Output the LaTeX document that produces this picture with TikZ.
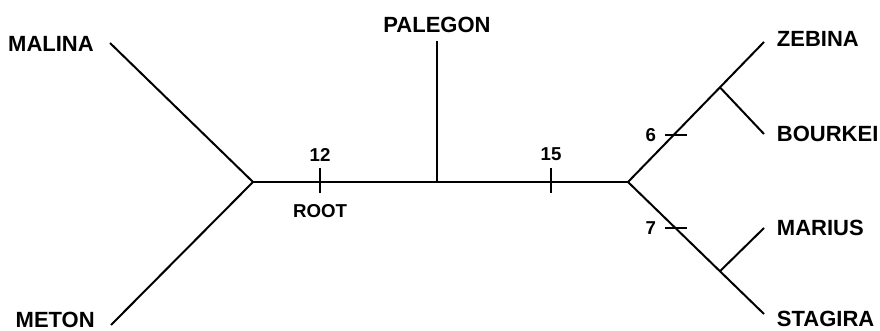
\documentclass[tikz,border=0pt]{standalone}
\usepackage{fontspec}
\setmainfont{Liberation Sans}
\usetikzlibrary{positioning,calc}

\begin{document}
\begin{tikzpicture}[
    x=0.75pt, y=-0.75pt,
    leaf/.style={inner sep=0pt, font=\fontsize{16.5}{19}\selectfont\bfseries},
    len/.style={inner sep=0pt, font=\fontsize{14}{17}\selectfont\bfseries},
    branch/.style={line width=1.5pt},
    tick/.style={line width=1.3pt},
]
\useasboundingbox (0,0) rectangle (880,331);

% inner junctions
\coordinate (lj) at (253,182);
\coordinate (pj) at (437,182);
\coordinate (rj) at (628,182);
\coordinate (uj) at ($(rj)!0.676!(764,42)$);
\coordinate (dj) at ($(rj)!0.676!(764,314)$);

% leaf tips and labels
\coordinate (malina) at (110,43);
\coordinate (meton) at (111,325);
\coordinate (palegon) at (437,41);
\coordinate (zebina) at (764,42);
\coordinate (bourkei) at (764,134);
\coordinate (marius) at (764,228);
\coordinate (stagira) at (764,314);
\node[leaf, left=12pt of malina, yshift=-1pt] (malinaL) {MALINA};
\node[leaf, left=12pt of meton, yshift=3.5pt] (metonL) {METON};
\node[leaf, above=6pt of palegon] (palegonL) {PALEGON};
\node[leaf, right=9.5pt of zebina, yshift=2pt] (zebinaL) {ZEBINA};
\node[leaf, right=9.5pt of bourkei] (bourkeiL) {BOURKEI};
\node[leaf, right=9.5pt of marius] (mariusL) {MARIUS};
\node[leaf, right=9.5pt of stagira, yshift=-3.5pt] (stagiraL) {STAGIRA};

% branches
\draw[branch] (malina) -- (lj) -- (meton);
\draw[branch] (lj) -- (pj) -- (rj);
\draw[branch] (pj) -- (palegon);
\draw[branch] (rj) -- (uj) -- (zebina);
\draw[branch] (uj) -- (bourkei);
\draw[branch] (rj) -- (dj) -- (stagira);
\draw[branch] (dj) -- (marius);

% branch length ticks
\coordinate (t12) at (320,182);
\coordinate (t15) at (551,182);
\coordinate (t6) at (665,135);
\coordinate (t7) at (665,228);
\draw[tick] ($(t12)+(0,-14)$) -- ($(t12)+(0,11)$);
\draw[tick] ($(t15)+(0,-14)$) -- ($(t15)+(0,11)$);
\draw[tick] (t6) -- ++(22,0);
\draw[tick] (t7) -- ++(22,0);
\node[len, above=15.5pt of t12] (l12) {12};
\node[len, below=17pt of t12] (root) {ROOT};
\node[len, above=15.5pt of t15] (l15) {15};
\node[len, left=6.5pt of t6] (l6) {6};
\node[len, left=6.5pt of t7] (l7) {7};
\end{tikzpicture}
\end{document}
